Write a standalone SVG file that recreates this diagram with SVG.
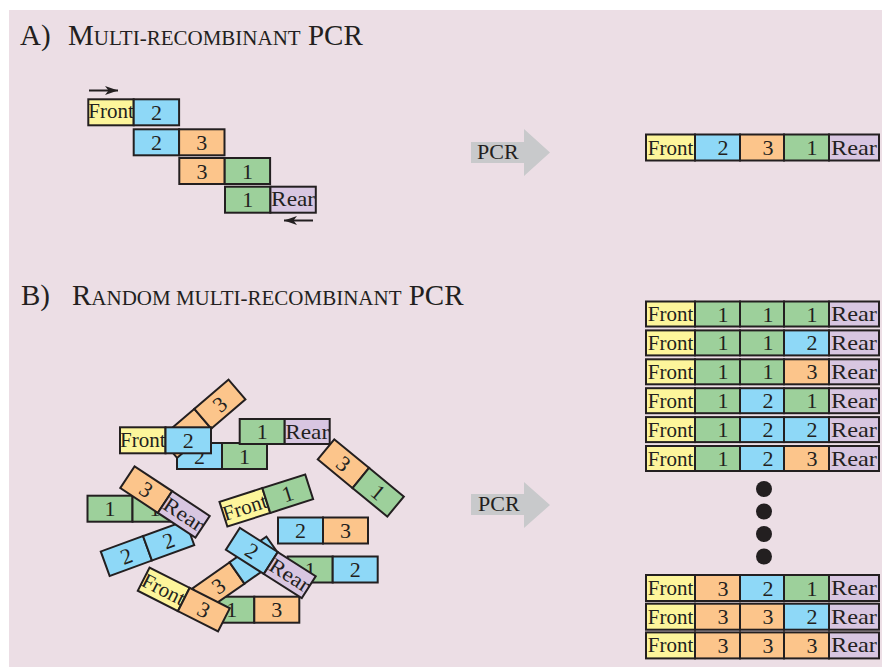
<svg xmlns="http://www.w3.org/2000/svg" width="882" height="667" viewBox="0 0 882 667">
<style>
.y{fill:#fdf59b}.b{fill:#8ed8f7}.o{fill:#fcc58b}.g{fill:#9dd09b}.p{fill:#d8c6e1}
rect.c{stroke:#231f20;stroke-width:2}
.t{font-family:"Liberation Serif","Times New Roman",serif;font-size:21px;fill:#231f20;text-anchor:middle}
.d{font-family:"Liberation Serif","Times New Roman",serif;font-size:22px;fill:#231f20;text-anchor:middle}
.title{font-family:"Liberation Serif","Times New Roman",serif;font-size:29px;fill:#231f20}
.pcr{font-family:"Liberation Serif","Times New Roman",serif;font-size:22px;fill:#231f20}
.arrowbody{fill:#c8c9cb}
.primer{stroke:#231f20;stroke-width:2;fill:none}
</style>
<defs>
<marker id="ah" markerWidth="14" markerHeight="10" refX="13" refY="5" orient="auto" markerUnits="userSpaceOnUse"><path d="M0,0.5 L13,5 L0,9.5 L3.5,5 z" fill="#231f20"/></marker>
</defs>
<rect x="0" y="0" width="882" height="667" fill="#ffffff"/>
<rect x="9" y="10" width="873" height="657" fill="#ecdee5"/>

<text id="titleA" class="title" x="20" y="45">A) <tspan x="68">M</tspan><tspan font-size="21">ULTI-RECOMBINANT</tspan> PCR</text>
<text id="titleB" class="title" x="21" y="305">B) <tspan x="72">R</tspan><tspan font-size="21">ANDOM MULTI-RECOMBINANT</tspan> PCR</text>

<!-- Section A fragments -->
<g id="a-row1" transform="translate(88.3 99.3)">
 <rect class="c y" x="0" y="0" width="45.4" height="26"/><rect class="c b" x="45.4" y="0" width="45.4" height="26"/>
 <text class="t" x="22.7" y="19">Front</text><text class="d" x="68.1" y="20.5">2</text>
</g>
<g id="a-row2" transform="translate(133.7 129.3)">
 <rect class="c b" x="0" y="0" width="45.4" height="26"/><rect class="c o" x="45.4" y="0" width="45.4" height="26"/>
 <text class="d" x="22.7" y="20.5">2</text><text class="d" x="68.1" y="20.5">3</text>
</g>
<g id="a-row3" transform="translate(179.3 158)">
 <rect class="c o" x="0" y="0" width="45.4" height="26"/><rect class="c g" x="45.4" y="0" width="45.4" height="26"/>
 <text class="d" x="22.7" y="20.5">3</text><text class="d" x="68.1" y="20.5">1</text>
</g>
<g id="a-row4" transform="translate(225 186.7)">
 <rect class="c g" x="0" y="0" width="45.4" height="26"/><rect class="c p" x="45.4" y="0" width="45.4" height="26"/>
 <text class="d" x="22.7" y="20.5">1</text><text class="t" x="68.1" y="19" textLength="44" lengthAdjust="spacingAndGlyphs">Rear</text>
</g>

<!-- Section A product -->
<g id="a-product" transform="translate(646 134.5)">
 <rect class="c y" x="0" y="0" width="49" height="26"/><rect class="c b" x="49" y="0" width="45" height="26"/><rect class="c o" x="94" y="0" width="44" height="26"/><rect class="c g" x="138" y="0" width="45" height="26"/><rect class="c p" x="183" y="0" width="50" height="26"/>
 <text class="t" x="24.5" y="20">Front</text><text class="d" x="77" y="20.5">2</text><text class="d" x="122" y="20.5">3</text><text class="d" x="166" y="20.5">1</text><text class="t" x="208" y="20" textLength="46" lengthAdjust="spacingAndGlyphs">Rear</text>
</g>

<!-- Section B scattered fragments -->
<g id="b-frag-2-1" transform="translate(222 456)">
 <rect class="c b" x="-45" y="-13" width="45" height="26"/><rect class="c g" x="0" y="-13" width="45" height="26"/>
 <text class="d" x="-22.5" y="7.5">2</text><text class="d" x="22.5" y="7.5">1</text>
</g>
<g id="b-frag-3-3" transform="translate(202.8 418.8) rotate(-40.6)">
 <rect class="c o" x="-45" y="-13" width="45" height="26"/><rect class="c o" x="0" y="-13" width="45" height="26"/>
 <text class="d" x="22.5" y="7.5">3</text>
</g>
<g id="b-frag-front-2" transform="translate(165.5 440.3)">
 <rect class="c y" x="-45.5" y="-13" width="45.5" height="26"/><rect class="c b" x="0" y="-13" width="45.5" height="26"/>
 <text class="t" x="-22.7" y="7">Front</text><text class="d" x="22.7" y="7.5">2</text>
</g>
<g id="b-frag-1-rear" transform="translate(284.7 431.5)">
 <rect class="c g" x="-45" y="-12.5" width="45" height="25"/><rect class="c p" x="0" y="-12.5" width="45" height="25"/>
 <text class="d" x="-22.5" y="7.5">1</text><text class="t" x="22.5" y="7" textLength="44" lengthAdjust="spacingAndGlyphs">Rear</text>
</g>
<g id="b-frag-3-1" transform="translate(360.8 478) rotate(39.4)">
 <rect class="c o" x="-45" y="-13" width="45" height="26"/><rect class="c g" x="0" y="-13" width="45" height="26"/>
 <text class="d" x="-22.5" y="7.5">3</text><text class="d" x="22.5" y="7.5">1</text>
</g>
<g id="b-frag-1-1" transform="translate(132.5 508.7)">
 <rect class="c g" x="-45" y="-13" width="45" height="26"/><rect class="c g" x="0" y="-13" width="45" height="26"/>
 <text class="d" x="-22.5" y="7.5">1</text><text class="d" x="22.5" y="7.5">1</text>
</g>
<g id="b-frag-2-2" transform="translate(147.5 548.3) rotate(-20)">
 <rect class="c b" x="-45" y="-13" width="45" height="26"/><rect class="c b" x="0" y="-13" width="45" height="26"/>
 <text class="d" x="-22.5" y="7.5">2</text><text class="d" x="22.5" y="7.5">2</text>
</g>
<g id="b-frag-3-rear" transform="translate(165 502) rotate(33.4)">
 <rect class="c o" x="-45" y="-13" width="45" height="26"/><rect class="c p" x="0" y="-13" width="45" height="26"/>
 <text class="d" x="-22.5" y="7.5">3</text><text class="t" x="22.5" y="7" textLength="44" lengthAdjust="spacingAndGlyphs">Rear</text>
</g>
<g id="b-frag-front-1" transform="translate(266.3 500.5) rotate(-17.7)">
 <rect class="c y" x="-45" y="-13" width="45" height="26"/><rect class="c g" x="0" y="-13" width="45" height="26"/>
 <text class="t" x="-22.5" y="7">Front</text><text class="d" x="22.5" y="7.5">1</text>
</g>
<g id="b-frag-2-3" transform="translate(323 530.5)">
 <rect class="c b" x="-45" y="-13" width="45" height="26"/><rect class="c o" x="0" y="-13" width="45" height="26"/>
 <text class="d" x="-22.5" y="7.5">2</text><text class="d" x="22.5" y="7.5">3</text>
</g>
<g id="b-frag-1-3" transform="translate(254.3 609.7)">
 <rect class="c g" x="-45" y="-13" width="45" height="26"/><rect class="c o" x="0" y="-13" width="45" height="26"/>
 <text class="d" x="-22.5" y="7.5">1</text><text class="d" x="22.5" y="7.5">3</text>
</g>
<g id="b-frag-3-2" transform="translate(237 573) rotate(-35)">
 <rect class="c o" x="-45" y="-13" width="45" height="26"/><rect class="c b" x="0" y="-13" width="45" height="26"/>
 <text class="d" x="-22.5" y="7.5">3</text><text class="d" x="22.5" y="7.5">2</text>
</g>
<g id="b-frag-front-3" transform="translate(183.8 599.5) rotate(26.9)">
 <rect class="c y" x="-45" y="-13" width="45" height="26"/><rect class="c o" x="0" y="-13" width="45" height="26"/>
 <text class="t" x="-22.5" y="7">Front</text><text class="d" x="22.5" y="7.5">3</text>
</g>
<g id="b-frag-1-2" transform="translate(332.7 569.5)">
 <rect class="c g" x="-45" y="-13" width="45" height="26"/><rect class="c b" x="0" y="-13" width="45" height="26"/>
 <text class="d" x="-22.5" y="7.5">1</text><text class="d" x="22.5" y="7.5">2</text>
</g>
<g id="b-frag-2-rear" transform="translate(270.8 563) rotate(32.5)">
 <rect class="c b" x="-45" y="-13" width="45" height="26"/><rect class="c p" x="0" y="-13" width="45" height="26"/>
 <text class="d" x="-22.5" y="7.5">2</text><text class="t" x="22.5" y="7" textLength="44" lengthAdjust="spacingAndGlyphs">Rear</text>
</g>

<!-- Section B products -->
<g id="b-prod-111" transform="translate(646 301.5)">
 <rect class="c y" x="0" y="0" width="49" height="25"/><rect class="c g" x="49" y="0" width="45" height="25"/><rect class="c g" x="94" y="0" width="44" height="25"/><rect class="c g" x="138" y="0" width="45" height="25"/><rect class="c p" x="183" y="0" width="50" height="25"/>
 <text class="t" x="24.5" y="19.5">Front</text><text class="d" x="77" y="20">1</text><text class="d" x="122" y="20">1</text><text class="d" x="166" y="20">1</text><text class="t" x="208" y="19.5" textLength="46" lengthAdjust="spacingAndGlyphs">Rear</text>
</g>
<g id="b-prod-112" transform="translate(646 330.4)">
 <rect class="c y" x="0" y="0" width="49" height="25"/><rect class="c g" x="49" y="0" width="45" height="25"/><rect class="c g" x="94" y="0" width="44" height="25"/><rect class="c b" x="138" y="0" width="45" height="25"/><rect class="c p" x="183" y="0" width="50" height="25"/>
 <text class="t" x="24.5" y="19.5">Front</text><text class="d" x="77" y="20">1</text><text class="d" x="122" y="20">1</text><text class="d" x="166" y="20">2</text><text class="t" x="208" y="19.5" textLength="46" lengthAdjust="spacingAndGlyphs">Rear</text>
</g>
<g id="b-prod-113" transform="translate(646 359.3)">
 <rect class="c y" x="0" y="0" width="49" height="25"/><rect class="c g" x="49" y="0" width="45" height="25"/><rect class="c g" x="94" y="0" width="44" height="25"/><rect class="c o" x="138" y="0" width="45" height="25"/><rect class="c p" x="183" y="0" width="50" height="25"/>
 <text class="t" x="24.5" y="19.5">Front</text><text class="d" x="77" y="20">1</text><text class="d" x="122" y="20">1</text><text class="d" x="166" y="20">3</text><text class="t" x="208" y="19.5" textLength="46" lengthAdjust="spacingAndGlyphs">Rear</text>
</g>
<g id="b-prod-121" transform="translate(646 388.2)">
 <rect class="c y" x="0" y="0" width="49" height="25"/><rect class="c g" x="49" y="0" width="45" height="25"/><rect class="c b" x="94" y="0" width="44" height="25"/><rect class="c g" x="138" y="0" width="45" height="25"/><rect class="c p" x="183" y="0" width="50" height="25"/>
 <text class="t" x="24.5" y="19.5">Front</text><text class="d" x="77" y="20">1</text><text class="d" x="122" y="20">2</text><text class="d" x="166" y="20">1</text><text class="t" x="208" y="19.5" textLength="46" lengthAdjust="spacingAndGlyphs">Rear</text>
</g>
<g id="b-prod-122" transform="translate(646 417.1)">
 <rect class="c y" x="0" y="0" width="49" height="25"/><rect class="c g" x="49" y="0" width="45" height="25"/><rect class="c b" x="94" y="0" width="44" height="25"/><rect class="c b" x="138" y="0" width="45" height="25"/><rect class="c p" x="183" y="0" width="50" height="25"/>
 <text class="t" x="24.5" y="19.5">Front</text><text class="d" x="77" y="20">1</text><text class="d" x="122" y="20">2</text><text class="d" x="166" y="20">2</text><text class="t" x="208" y="19.5" textLength="46" lengthAdjust="spacingAndGlyphs">Rear</text>
</g>
<g id="b-prod-123" transform="translate(646 446)">
 <rect class="c y" x="0" y="0" width="49" height="25"/><rect class="c g" x="49" y="0" width="45" height="25"/><rect class="c b" x="94" y="0" width="44" height="25"/><rect class="c o" x="138" y="0" width="45" height="25"/><rect class="c p" x="183" y="0" width="50" height="25"/>
 <text class="t" x="24.5" y="19.5">Front</text><text class="d" x="77" y="20">1</text><text class="d" x="122" y="20">2</text><text class="d" x="166" y="20">3</text><text class="t" x="208" y="19.5" textLength="46" lengthAdjust="spacingAndGlyphs">Rear</text>
</g>
<g id="b-ellipsis" fill="#231f20">
 <circle cx="764" cy="489" r="8"/><circle cx="764" cy="511.5" r="8"/><circle cx="764" cy="534" r="8"/><circle cx="764" cy="556.5" r="8"/>
</g>
<g id="b-prod-321" transform="translate(646 575)">
 <rect class="c y" x="0" y="0" width="49" height="26"/><rect class="c o" x="49" y="0" width="45" height="26"/><rect class="c b" x="94" y="0" width="44" height="26"/><rect class="c g" x="138" y="0" width="45" height="26"/><rect class="c p" x="183" y="0" width="50" height="26"/>
 <text class="t" x="24.5" y="20">Front</text><text class="d" x="77" y="20.5">3</text><text class="d" x="122" y="20.5">2</text><text class="d" x="166" y="20.5">1</text><text class="t" x="208" y="20" textLength="46" lengthAdjust="spacingAndGlyphs">Rear</text>
</g>
<g id="b-prod-332" transform="translate(646 603.7)">
 <rect class="c y" x="0" y="0" width="49" height="26"/><rect class="c o" x="49" y="0" width="45" height="26"/><rect class="c o" x="94" y="0" width="44" height="26"/><rect class="c b" x="138" y="0" width="45" height="26"/><rect class="c p" x="183" y="0" width="50" height="26"/>
 <text class="t" x="24.5" y="20">Front</text><text class="d" x="77" y="20.5">3</text><text class="d" x="122" y="20.5">3</text><text class="d" x="166" y="20.5">2</text><text class="t" x="208" y="20" textLength="46" lengthAdjust="spacingAndGlyphs">Rear</text>
</g>
<g id="b-prod-333" transform="translate(646 632.4)">
 <rect class="c y" x="0" y="0" width="49" height="26"/><rect class="c o" x="49" y="0" width="45" height="26"/><rect class="c o" x="94" y="0" width="44" height="26"/><rect class="c o" x="138" y="0" width="45" height="26"/><rect class="c p" x="183" y="0" width="50" height="26"/>
 <text class="t" x="24.5" y="20">Front</text><text class="d" x="77" y="20.5">3</text><text class="d" x="122" y="20.5">3</text><text class="d" x="166" y="20.5">3</text><text class="t" x="208" y="20" textLength="46" lengthAdjust="spacingAndGlyphs">Rear</text>
</g>

<!-- Connectors -->
<g id="connectors">
 <path class="primer" d="M89 90.5 H118" marker-end="url(#ah)"/>
 <path class="primer" d="M313 220.5 H284" marker-end="url(#ah)"/>
 <g id="pcr-arrow-a">
  <polygon class="arrowbody" points="471,142 524,142 524,129 550,152.5 524,176 524,163 471,163"/>
  <text class="pcr" x="477" y="158.5">PCR</text>
 </g>
 <g id="pcr-arrow-b">
  <polygon class="arrowbody" points="471,494 524,494 524,482 550,505 524,528 524,515 471,515"/>
  <text class="pcr" x="478" y="511">PCR</text>
 </g>
</g>
</svg>
